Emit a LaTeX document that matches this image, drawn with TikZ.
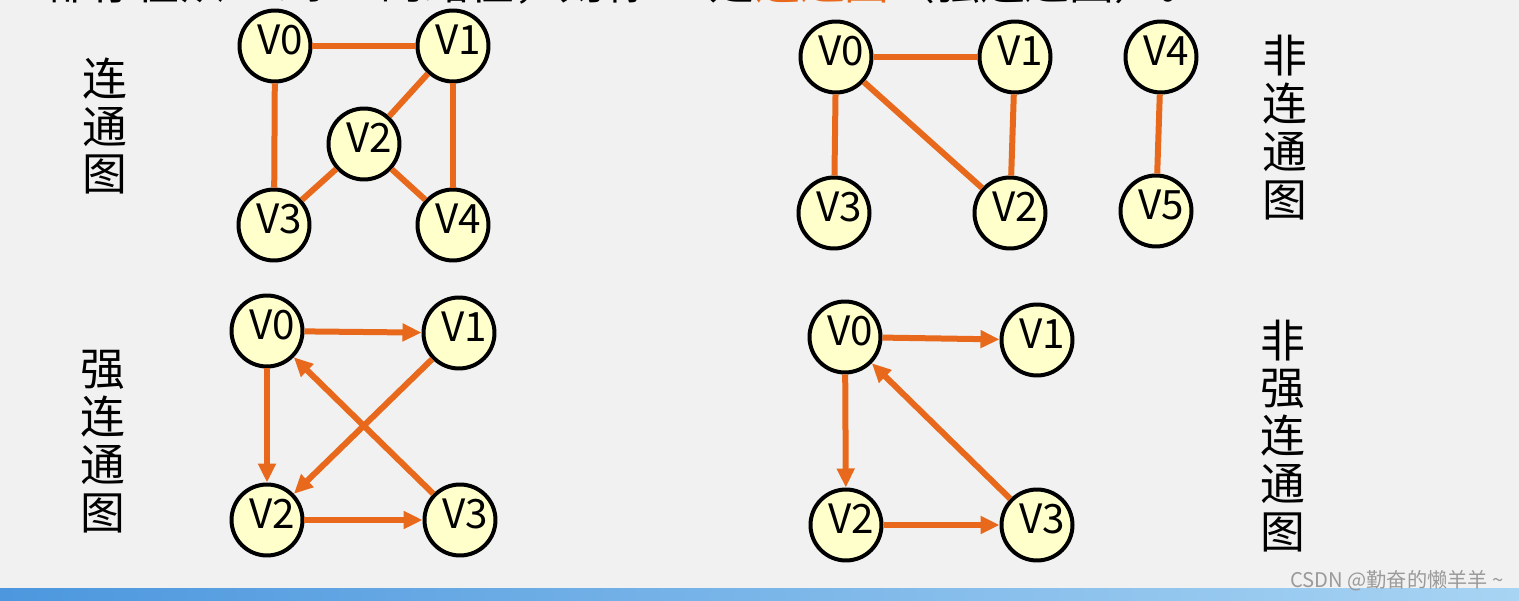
\documentclass[tikz,border=0pt]{standalone}
\usepackage{fontspec}
\setmainfont{Noto Sans CJK SC}
\usepackage{tikz}
\usetikzlibrary{arrows.meta}
\definecolor{canvas}{HTML}{F1F1F1}
\definecolor{vfill}{HTML}{FFFFCC}
\definecolor{linkorange}{HTML}{E8691B}
\definecolor{barblue}{HTML}{4C97DE}
\definecolor{barlight}{HTML}{A8D4F3}
\definecolor{markgray}{HTML}{9A9A9A}

\begin{document}
\begin{tikzpicture}[
    x=0.02cm, y=-0.02cm,
    vtx/.style  = {circle, draw=black, line width=0.08cm, fill=vfill,
                   minimum size=1.42cm, inner sep=0pt,
                   font=\fontsize{23}{24}\selectfont,
                   text height=0.59cm, text depth=0.26cm,
                   execute at begin node={\kern0.2cm}},
    link/.style = {line width=0.12cm, color=linkorange},
    darr/.style = {link, -{Triangle[length=0.38cm, width=0.34cm]}},
    vlbl/.style = {align=center, inner sep=0pt, font=\fontsize{25.5}{27.3}\selectfont},
    head/.style = {inner sep=0pt, font=\fontsize{25.5}{28}\selectfont}
  ]

  % ── Canvas ───────────────────────────────────────────────────────────────
  \useasboundingbox (0,0) rectangle (1519,601);
  \clip (0,0) rectangle (1519,601);
  \fill[canvas] (0,0) rectangle (1519,601);
  \shade[left color=barblue, right color=barlight] (0,588) rectangle (1519,601);

  % ── Heading (cut off at the top) ─────────────────────────────────────────
  \node[head, anchor=base west, text=linkorange] (hmid) at (755,0) {连通图};
  \node[head, anchor=base east] (hleft) at (hmid.base west)
    {都存在从\,\,v\,\,到\,\,u\,\,的路径，则称\,\,G\,\,是};
  \node[head, anchor=base west] (hright) at (hmid.base east) {（强连通图）。};

  % ── Connected graph ──────────────────────────────────────────────────────
  \node[vlbl] (lconn) at (105,126) {连\\通\\图};
  \node[vtx] (a0) at (275, 46) {V0};
  \node[vtx] (a1) at (453, 46) {V1};
  \node[vtx] (a2) at (364,144) {V2};
  \node[vtx] (a3) at (274,225) {V3};
  \node[vtx] (a4) at (453,225) {V4};
  \draw[link] (a0) -- (a1);
  \draw[link] (a0) -- (a3);
  \draw[link] (a1) -- (a4);
  \draw[link] (a1) -- (a2);
  \draw[link] (a2) -- (a3);
  \draw[link] (a2) -- (a4);

  % ── Not connected graph ──────────────────────────────────────────────────
  \node[vlbl] (lnconn) at (1285,128) {非\\连\\通\\图};
  \node[vtx] (b0) at ( 836, 57) {V0};
  \node[vtx] (b1) at (1015, 57) {V1};
  \node[vtx] (b4) at (1161, 57) {V4};
  \node[vtx] (b3) at ( 834,213) {V3};
  \node[vtx] (b2) at (1010,213) {V2};
  \node[vtx] (b5) at (1156,211) {V5};
  \draw[link] (b0) -- (b1);
  \draw[link] (b0) -- (b3);
  \draw[link] (b0) -- (b2);
  \draw[link] (b1) -- (b2);
  \draw[link] (b4) -- (b5);

  % ── Strongly connected digraph ───────────────────────────────────────────
  \node[vlbl] (lstrong) at (103,442) {强\\连\\通\\图};
  \node[vtx] (c0) at (267,331) {V0};
  \node[vtx] (c1) at (459,333) {V1};
  \node[vtx] (c2) at (267,520) {V2};
  \node[vtx] (c3) at (460,520) {V3};
  \draw[darr] (c0) -- (c1);
  \draw[darr] (c0) -- (c2);
  \draw[darr] (c1) -- (c2);
  \draw[darr] (c3) -- (c0);
  \draw[darr] (c2) -- (c3);

  % ── Not strongly connected digraph ───────────────────────────────────────
  \node[vlbl] (lnstrong) at (1283,436) {非\\强\\连\\通\\图};
  \node[vtx] (d0) at ( 845,337) {V0};
  \node[vtx] (d1) at (1037,340) {V1};
  \node[vtx] (d2) at ( 846,525) {V2};
  \node[vtx] (d3) at (1037,525) {V3};
  \draw[darr] (d0) -- (d1);
  \draw[darr] (d0) -- (d2);
  \draw[darr] (d3) -- (d0);
  \draw[darr] (d2) -- (d3);

  % ── Watermark ────────────────────────────────────────────────────────────
  \node[anchor=east, inner sep=0pt, text=markgray, font=\fontsize{11.5}{12}\selectfont]
    (mark) at (1504,581) {CSDN @勤奋的懒羊羊 \textasciitilde};
\end{tikzpicture}
\end{document}
